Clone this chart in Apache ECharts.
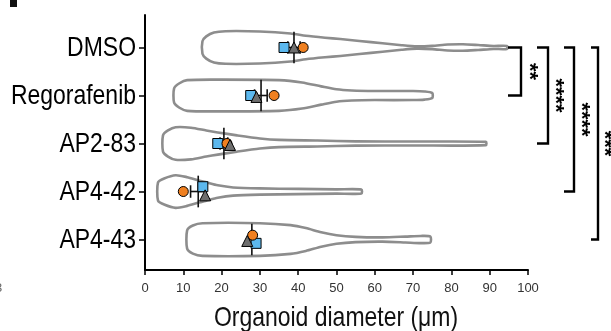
<!DOCTYPE html>
<html>
<head>
<meta charset="utf-8">
<script src="https://cdn.jsdelivr.net/npm/echarts@6/dist/echarts.min.js"></script>
<style>
  html, body { margin: 0; padding: 0; background: #fff; }
  #chart { width: 611px; height: 331px; }
</style>
</head>
<body>
<div id="chart"></div>
<script>
// groups, top to bottom
const groups = ["DMSO", "Regorafenib", "AP2-83", "AP4-42", "AP4-43"];

// violin outlines: [diameter, relative half width]
const violinDMSO = [[15, 0.38], [16, 0.68], [18, 0.92], [21, 1.0], [30, 0.98], [38, 0.86], [42, 0.72], [47, 0.6], [51, 0.52], [56, 0.4], [62, 0.26], [67, 0.14], [71, 0.07], [75, 0.1], [79, 0.18], [83, 0.2], [87, 0.15], [91, 0.09], [94.5, 0.09]];
const violinRego = [[7.6, 0.44], [9, 0.75], [11, 0.94], [20, 0.97], [35, 0.94], [41, 0.8], [46, 0.56], [50, 0.38], [54, 0.31], [60, 0.28], [70, 0.28], [73, 0.25], [75, 0.15]];
const violinAP283 = [[4.7, 0.5], [6, 0.8], [8, 1.0], [12, 0.97], [16, 0.8], [19, 0.68], [24, 0.5], [30, 0.31], [35, 0.22], [45, 0.18], [55, 0.13], [70, 0.12], [89, 0.1]];
const violinAP442 = [[3.4, 0.56], [5, 0.8], [8, 1.0], [11, 0.88], [14, 0.68], [16, 0.56], [19, 0.38], [23, 0.25], [30, 0.19], [40, 0.16], [50, 0.13], [56.5, 0.12]];
const violinAP443 = [[11, 0.56], [12.5, 0.86], [15, 1.0], [30, 1.0], [38, 0.88], [42, 0.7], [46, 0.44], [50, 0.26], [55, 0.16], [62, 0.13], [68, 0.18], [72, 0.22], [74.5, 0.18]];
const violins = [violinDMSO, violinRego, violinAP283, violinAP442, violinAP443];

// replicate means: [diameter, vertical offset within the row]
const squareVals = [[36.3, 0], [27.6, 0], [19.0, 0], [15.1, -0.1], [29.0, 0.08]];
const triangleVals = [[38.9, 0], [29.1, 0.03], [22.2, 0.03], [15.7, 0.08], [26.7, 0.03]];
const circleVals = [[41.3, 0], [33.7, 0], [21.4, 0], [10.0, 0], [28.1, -0.09]];

// mean line and error bar: [mean, low, high]
const meanErr = [[38.9, 37.3, 40.5], [30.3, 28.6, 31.9], [20.6, 19.6, 21.6], [13.9, 11.9, 15.9], [27.9, 27.2, 28.6]];

// significance brackets: [from group, to group, label]
const brackets = [[0, 1, "**"], [0, 2, "****"], [0, 3, "****"], [0, 4, "***"]];

const xTitle = "Organoid diameter (μm)";

const FONT = "'Liberation Sans', Arial, sans-serif";
const NARROW = 0.82;        // the figure uses a condensed face
const VIOLIN_HALF = 0.34;   // category units for relative width 1
const MEAN_HALF = 0.33;
const CAP_HALF = 0.13;

// bracket placement in pixels right of the plot area
const bracketX = [[-20, -7, 1], [9, 20, 27], [36, 46, 53], [63, 70, 76]];

const chart = echarts.init(document.getElementById("chart"), null, { renderer: "canvas" });

function violinItem(params, api) {
  const idx = api.value(0);
  const prof = violins[idx];
  const top = prof.map(p => api.coord([p[0], idx - p[1] * VIOLIN_HALF]));
  const bot = prof.slice().reverse().map(p => api.coord([p[0], idx + p[1] * VIOLIN_HALF]));
  return {
    type: "polygon",
    shape: { points: top.concat(bot), smooth: 0.25 },
    style: { fill: "#fff", stroke: "#8d8d8d", lineWidth: 2.6 }
  };
}

function errItem(params, api) {
  const idx = api.value(0);
  const m = meanErr[idx];
  const seg = (a, b) => ({
    type: "line",
    shape: { x1: a[0], y1: a[1], x2: b[0], y2: b[1] },
    style: { stroke: "#111", lineWidth: 1.6 }
  });
  return {
    type: "group",
    children: [
      seg(api.coord([m[1], idx]), api.coord([m[2], idx])),
      seg(api.coord([m[1], idx - CAP_HALF]), api.coord([m[1], idx + CAP_HALF])),
      seg(api.coord([m[2], idx - CAP_HALF]), api.coord([m[2], idx + CAP_HALF])),
      seg(api.coord([m[0], idx - MEAN_HALF]), api.coord([m[0], idx + MEAN_HALF]))
    ]
  };
}

// category names drawn condensed, right aligned against the axis ticks
function labelItem(params, api) {
  const idx = api.value(0);
  const p = api.coord([0, idx]);
  return {
    type: "text", x: p[0] - 9, y: p[1] + 1, scaleX: NARROW,
    style: { text: groups[idx], font: "28px " + FONT, fill: "#000", align: "right", verticalAlign: "middle" }
  };
}

function bracketItem(params, api) {
  const i = params.dataIndex;
  const b = brackets[i];
  const right = params.coordSys.x + params.coordSys.width;
  const y1 = api.coord([0, b[0]])[1];
  const y2 = api.coord([0, b[1]])[1];
  const xs = bracketX[i];
  const xl = right + xs[0], xr = right + xs[1];
  return {
    type: "group",
    children: [
      {
        type: "polyline",
        shape: { points: [[xl, y1], [xr, y1], [xr, y2], [xl, y2]] },
        style: { stroke: "#000", lineWidth: 2.4, fill: null }
      },
      {
        type: "text",
        x: right + xs[2], y: (y1 + y2) / 2,
        rotation: -Math.PI / 2,
        style: { text: b[2], font: "bold 22px " + FONT, fill: "#000", align: "center", verticalAlign: "middle" }
      }
    ]
  };
}

const markerBase = { type: "scatter", symbolSize: 10, z: 5, itemStyle: { borderColor: "#000", borderWidth: 1, opacity: 1 } };

chart.setOption({
  animation: false,
  grid: { left: 145, right: 83, top: 15, bottom: 61, outerBoundsMode: "none", containLabel: false },
  xAxis: {
    type: "value", min: 0, max: 100, interval: 10,
    axisLine: { onZero: false, lineStyle: { color: "#000", width: 2 } },
    axisTick: { length: 5, lineStyle: { color: "#000", width: 1.5 } },
    axisLabel: { fontFamily: FONT, fontSize: 13, color: "#333", margin: 12 },
    splitLine: { show: false }
  },
  yAxis: {
    type: "value", inverse: true, min: -0.677, max: 4.635,
    axisLine: { show: true, onZero: false, lineStyle: { color: "#000", width: 2 } },
    axisTick: { show: true, length: 6, customValues: [0, 1, 2, 3, 4], lineStyle: { color: "#000", width: 1.5 } },
    axisLabel: { show: false },
    splitLine: { show: false }
  },
  graphic: [
    { type: "rect", shape: { x: 10, y: 0, width: 7, height: 7 }, style: { fill: "#111" } },
    { type: "text", x: -5, y: 282, style: { text: "3", font: "13px " + FONT, fill: "#666" } },
    { type: "text", x: 336, y: 318, scaleX: NARROW,
      style: { text: xTitle, font: "28px " + FONT, fill: "#111", align: "center", verticalAlign: "middle" } }
  ],
  series: [
    { type: "custom", renderItem: violinItem, data: groups.map((g, i) => [i]), z: 1, silent: true },
    { type: "custom", renderItem: errItem, data: groups.map((g, i) => [i]), z: 3, silent: true },
    Object.assign({}, markerBase, { symbol: "rect", data: squareVals.map((p, i) => [p[0], i + p[1]]),
      itemStyle: Object.assign({}, markerBase.itemStyle, { color: "#5cb8ee" }) }),
    Object.assign({}, markerBase, { symbol: "circle", data: circleVals.map((p, i) => [p[0], i + p[1]]),
      itemStyle: Object.assign({}, markerBase.itemStyle, { color: "#f08020" }) }),
    Object.assign({}, markerBase, { symbol: "triangle", symbolSize: 11, data: triangleVals.map((p, i) => [p[0], i + p[1]]),
      itemStyle: Object.assign({}, markerBase.itemStyle, { color: "#6e6e6e" }) }),
    { type: "custom", renderItem: labelItem, data: groups.map((g, i) => [i]), z: 6, silent: true, clip: false },
    { type: "custom", renderItem: bracketItem, data: brackets.map((b, i) => [i]), z: 6, silent: true, clip: false }
  ]
});
</script>
</body>
</html>
